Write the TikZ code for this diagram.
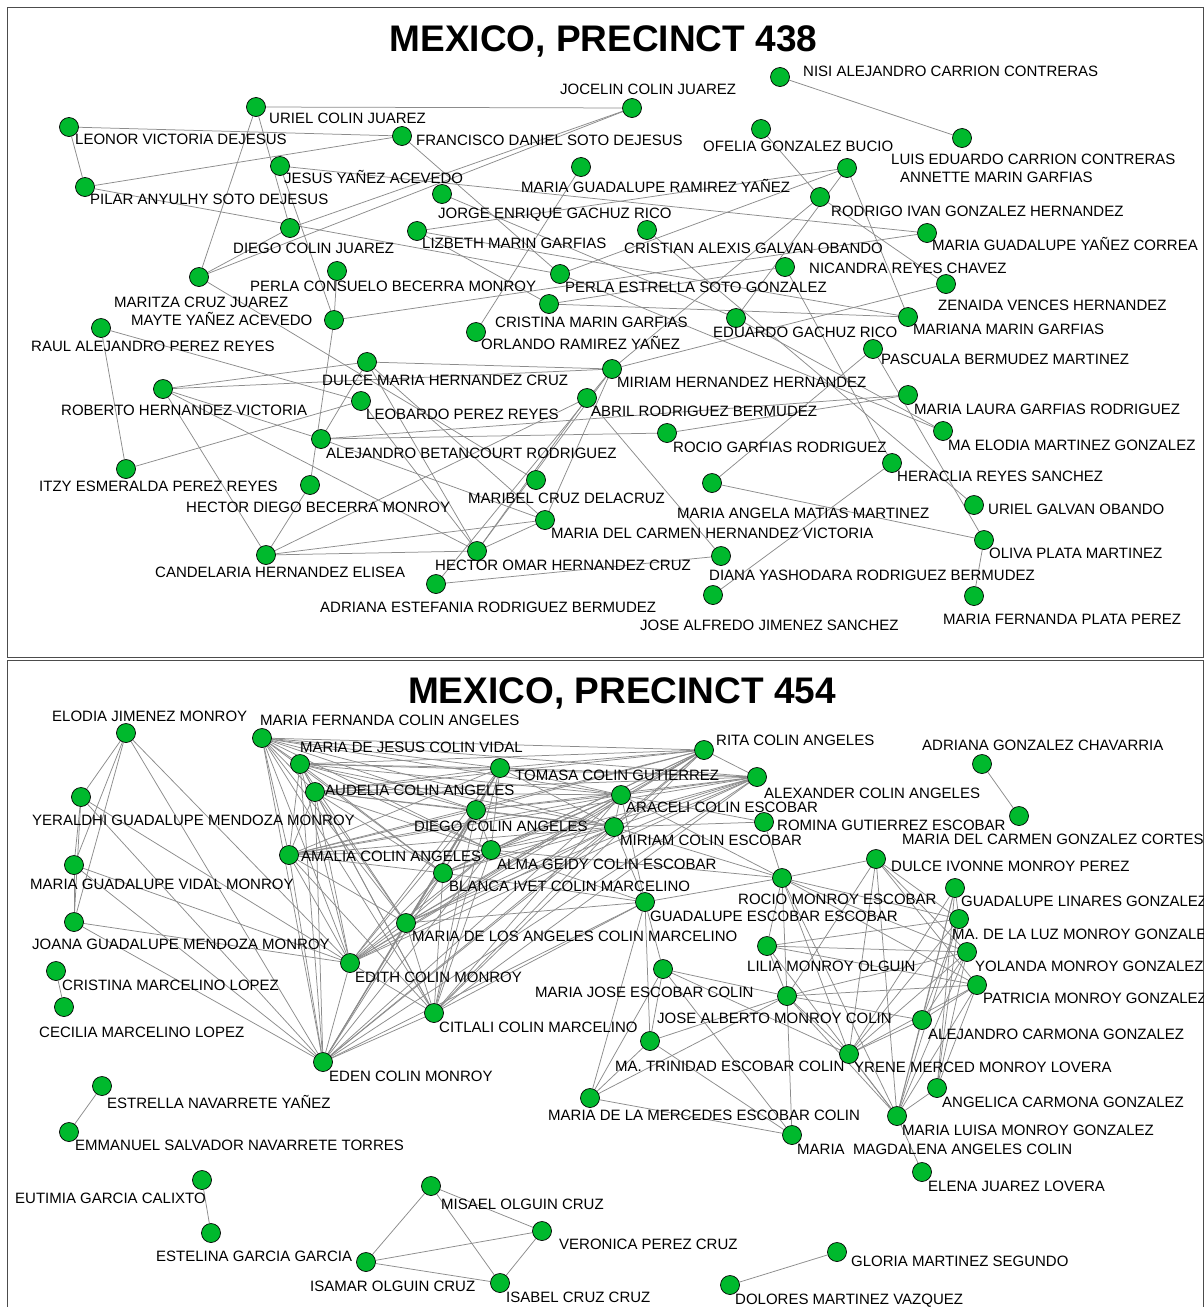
\documentclass[tikz,border=0pt]{standalone}
\usepackage{fontspec}
\setmainfont{Liberation Sans}
\usetikzlibrary{backgrounds}
\definecolor{dotgreen}{RGB}{0,185,45}
\definecolor{linkgray}{RGB}{140,140,140}

\begin{document}
\begin{tikzpicture}[x=1pt,y=-1pt,
    dot/.style={circle,draw=black,line width=0.7pt,fill=dotgreen,minimum size=19pt,inner sep=0pt},
    lbl/.style={anchor=west,inner sep=0pt,text height=10.8pt,text depth=0pt,font=\fontsize{15}{17}\selectfont},
    link/.style={draw=linkgray,line width=0.75pt},
    frame/.style={draw=black!70,line width=0.8pt},
    title/.style={inner sep=0pt,text height=26.5pt,text depth=0pt,font=\fontsize{37}{40}\selectfont\bfseries}]
    \useasboundingbox (0,0) rectangle (1204,1307);

    % frames and titles
    \draw[frame] (7.5,7.5) rectangle (1203.5,657.5);
    \draw[frame] (7.5,660.5) rectangle (1203.5,1312);
    \node[title] (t438) at (603.5,38) {MEXICO, PRECINCT 438};
    \node[title] (t454) at (622,690) {MEXICO, PRECINCT 454};

    % precinct 438
    \foreach \n/\p/\q/\t in {
        ucj/{256,107}/{269,118}/URIEL COLIN JUAREZ,
        lvd/{69,127}/{75,139}/LEONOR VICTORIA DEJESUS,
        fds/{402,136}/{416,140}/FRANCISCO DANIEL SOTO DEJESUS,
        jcj/{632,108}/{560,89}/JOCELIN COLIN JUAREZ,
        nac/{780,77}/{803,71}/NISI ALEJANDRO CARRION CONTRERAS,
        lec/{962,138}/{891,159}/LUIS EDUARDO CARRION CONTRERAS,
        ogb/{761,129}/{703,146}/OFELIA GONZALEZ BUCIO,
        amg/{847,168}/{900,177}/ANNETTE MARIN GARFIAS,
        rgh/{820,197}/{831,211}/RODRIGO IVAN GONZALEZ HERNANDEZ,
        jya/{280,166}/{284,178}/JESUS YAÑEZ ACEVEDO,
        pas/{85,187}/{90,199}/PILAR ANYULHY SOTO DEJESUS,
        mry/{581,167}/{521,187}/MARIA GUADALUPE RAMIREZ YAÑEZ,
        jgr/{442,194}/{438,213}/JORGE ENRIQUE GACHUZ RICO,
        dcj/{290,228}/{233,248}/DIEGO COLIN JUAREZ,
        lmg/{417,231}/{422,243}/LIZBETH MARIN GARFIAS,
        cgo/{647,230}/{624,248}/CRISTIAN ALEXIS GALVAN OBANDO,
        myc/{927,233}/{932,245}/MARIA GUADALUPE YAÑEZ CORREA,
        nrc/{785,267}/{809,268}/NICANDRA REYES CHAVEZ,
        pbm/{337,271}/{250,286}/PERLA CONSUELO BECERRA MONROY,
        mcj/{199,277}/{114,302}/MARITZA CRUZ JUAREZ,
        psg/{560,274}/{565,287}/PERLA ESTRELLA SOTO GONZALEZ,
        zvh/{946,284}/{938,305}/ZENAIDA VENCES HERNANDEZ,
        cmg/{549,304}/{495,322}/CRISTINA MARIN GARFIAS,
        mya/{334,320}/{131,320}/MAYTE YAÑEZ ACEVEDO,
        egr/{736,318}/{713,332}/EDUARDO GACHUZ RICO,
        mmg/{908,317}/{913,329}/MARIANA MARIN GARFIAS,
        rpr/{101,328}/{31,346}/RAUL ALEJANDRO PEREZ REYES,
        ory/{476,332}/{481,344}/ORLANDO RAMIREZ YAÑEZ,
        pbz/{873,349}/{881,359}/PASCUALA BERMUDEZ MARTINEZ,
        dhc/{367,362}/{322,380}/DULCE MARIA HERNANDEZ CRUZ,
        mhh/{612,369}/{617,382}/MIRIAM HERNANDEZ HERNANDEZ,
        rhv/{163,389}/{61,410}/ROBERTO HERNANDEZ VICTORIA,
        lpr/{361,401}/{366,414}/LEOBARDO PEREZ REYES,
        arb/{587,398}/{591,411}/ABRIL RODRIGUEZ BERMUDEZ,
        mlr/{908,395}/{914,409}/MARIA LAURA GARFIAS RODRIGUEZ,
        rgr/{667,433}/{673,447}/ROCIO GARFIAS RODRIGUEZ,
        emg/{943,431}/{948,445}/MA ELODIA MARTINEZ GONZALEZ,
        abr/{321,439}/{326,453}/ALEJANDRO BETANCOURT RODRIGUEZ,
        hrs/{892,463}/{897,476}/HERACLIA REYES SANCHEZ,
        ipr/{126,469}/{39,486}/ITZY ESMERALDA PEREZ REYES,
        mcd/{536,480}/{468,498}/MARIBEL CRUZ DELACRUZ,
        hbm/{310,485}/{186,507}/HECTOR DIEGO BECERRA MONROY,
        amm/{712,483}/{677,513}/MARIA ANGELA MATIAS MARTINEZ,
        ugo/{974,505}/{988,509}/URIEL GALVAN OBANDO,
        mhv/{545,520}/{551,533}/MARIA DEL CARMEN HERNANDEZ VICTORIA,
        che/{266,555}/{155,572}/CANDELARIA HERNANDEZ ELISEA,
        hhc/{477,551}/{435,565}/HECTOR OMAR HERNANDEZ CRUZ,
        opm/{984,540}/{989,553}/OLIVA PLATA MARTINEZ,
        drb/{721,556}/{709,575}/DIANA YASHODARA RODRIGUEZ BERMUDEZ,
        aer/{436,584}/{320,607}/ADRIANA ESTEFANIA RODRIGUEZ BERMUDEZ,
        jjs/{713,595}/{640,625}/JOSE ALFREDO JIMENEZ SANCHEZ,
        mpp/{974,596}/{943,619}/MARIA FERNANDA PLATA PEREZ}
    {
        \node[dot] (\n) at (\p) {};
        \node[lbl] (\n-t) at (\q) {\t};
    }

    % precinct 454
    \foreach \n/\p/\q/\t in {
        ejm/{126,733}/{52,716}/ELODIA JIMENEZ MONROY,
        mfc/{262,738}/{260,720}/MARIA FERNANDA COLIN ANGELES,
        mjc/{300,764}/{300,747}/MARIA DE JESUS COLIN VIDAL,
        tcg/{500,768}/{515,775}/TOMASA COLIN GUTIERREZ,
        rca/{704,750}/{716,740}/RITA COLIN ANGELES,
        xca/{757,777}/{764,793}/ALEXANDER COLIN ANGELES,
        aud/{315,792}/{325,790}/AUDELIA COLIN ANGELES,
        ace/{621,795}/{626,807}/ARACELI COLIN ESCOBAR,
        dca/{476,810}/{414,826}/DIEGO COLIN ANGELES,
        mce/{614,827}/{620,840}/MIRIAM COLIN ESCOBAR,
        rge/{764,822}/{777,825}/ROMINA GUTIERREZ ESCOBAR,
        ygm/{81,797}/{32,820}/YERALDHI GUADALUPE MENDOZA MONROY,
        agc/{982,764}/{922,745}/ADRIANA GONZALEZ CHAVARRIA,
        mgc/{1019,816}/{902,839}/MARIA DEL CARMEN GONZALEZ CORTES,
        ama/{289,855}/{301,856}/AMALIA COLIN ANGELES,
        age/{491,850}/{497,864}/ALMA GEIDY COLIN ESCOBAR,
        bic/{443,873}/{449,886}/BLANCA IVET COLIN MARCELINO,
        dim/{876,859}/{891,866}/DULCE IVONNE MONROY PEREZ,
        mgv/{74,865}/{30,884}/MARIA GUADALUPE VIDAL MONROY,
        rme/{782,878}/{738,899}/ROCIO MONROY ESCOBAR,
        glg/{955,888}/{961,901}/GUADALUPE LINARES GONZALEZ,
        gee/{645,902}/{650,916}/GUADALUPE ESCOBAR ESCOBAR,
        mlz/{959,919}/{952,934}/MA. DE LA LUZ MONROY GONZALEZ,
        jgm/{74,922}/{32,944}/JOANA GUADALUPE MENDOZA MONROY,
        mac/{406,923}/{412,936}/MARIA DE LOS ANGELES COLIN MARCELINO,
        lmo/{767,946}/{747,966}/LILIA MONROY OLGUIN,
        ymg/{967,952}/{975,966}/YOLANDA MONROY GONZALEZ,
        ecm/{350,963}/{355,977}/EDITH COLIN MONROY,
        mje/{663,969}/{535,992}/MARIA JOSE ESCOBAR COLIN,
        cml/{56,971}/{62,985}/CRISTINA MARCELINO LOPEZ,
        pmg/{977,985}/{983,998}/PATRICIA MONROY GONZALEZ,
        cel/{64,1007}/{39,1032}/CECILIA MARCELINO LOPEZ,
        jam/{787,996}/{657,1018}/JOSE ALBERTO MONROY COLIN,
        ccm/{434,1013}/{439,1027}/CITLALI COLIN MARCELINO,
        acg/{922,1020}/{928,1034}/ALEJANDRO CARMONA GONZALEZ,
        mte/{650,1041}/{615,1066}/MA. TRINIDAD ESCOBAR COLIN,
        yml/{849,1054}/{854,1067}/YRENE MERCED MONROY LOVERA,
        edc/{323,1062}/{329,1076}/EDEN COLIN MONROY,
        eny/{102,1086}/{107,1103}/ESTRELLA NAVARRETE YAÑEZ,
        ang/{937,1088}/{942,1102}/ANGELICA CARMONA GONZALEZ,
        mme/{590,1098}/{548,1115}/MARIA DE LA MERCEDES ESCOBAR COLIN,
        mlm/{897,1116}/{902,1130}/MARIA LUISA MONROY GONZALEZ,
        ent/{69,1132}/{75,1145}/EMMANUEL SALVADOR NAVARRETE TORRES,
        mma/{792,1135}/{797,1149}/MARIA\ \ MAGDALENA ANGELES COLIN,
        ejl/{922,1172}/{928,1186}/ELENA JUAREZ LOVERA,
        egc/{202,1180}/{15,1198}/EUTIMIA GARCIA CALIXTO,
        moc/{431,1186}/{441,1204}/MISAEL OLGUIN CRUZ,
        vpc/{542,1231}/{559,1244}/VERONICA PEREZ CRUZ,
        egg/{211,1233}/{156,1256}/ESTELINA GARCIA GARCIA,
        gms/{837,1252}/{851,1261}/GLORIA MARTINEZ SEGUNDO,
        ioc/{366,1262}/{310,1286}/ISAMAR OLGUIN CRUZ,
        icc/{500,1283}/{506,1297}/ISABEL CRUZ CRUZ,
        dmv/{730,1285}/{735,1299}/DOLORES MARTINEZ VAZQUEZ}
    {
        \node[dot] (\n) at (\p) {};
        \node[lbl] (\n-t) at (\q) {\t};
    }

    \begin{scope}[on background layer]
        \fill[white] (0,0) rectangle (1204,1307);
        % links 438
        \foreach \a/\b in {ucj/jcj, ucj/mcj, ucj/dcj, lvd/fds, lvd/pas, pas/fds, pas/psg,
            jya/myc, jya/mya, dcj/jcj, mcj/jcj, mcj/dcj, pbm/mya, mya/myc, mya/hbm,
            mcj/mcd, rpr/lpr, rpr/ipr, fds/psg, mry/ory, nac/lec, ogb/rgh, rgh/zvh,
            rgh/mhh, amg/mmg, amg/lmg, amg/psg, amg/egr, lmg/mmg, cmg/mmg, lmg/cmg,
            jgr/egr, cgo/ugo, nrc/hrs, zvh/mhh, cmg/nrc, psg/emg, egr/emg, rhv/dhc,
            rhv/mhh, rhv/che, rhv/abr, rhv/hhc, ipr/lpr, dhc/abr, dhc/mhv, dhc/hhc,
            dhc/mhh, abr/rgr, abr/mhv, abr/mlr, rgr/mlr, che/hbm, che/mhv,
            che/hhc, che/arb, mhh/hhc, mhh/aer, mhh/mhv, arb/hhc, arb/drb, amm/pbz,
            amm/opm, hhc/mhv, lpr/hhc, aer/drb, pbz/opm, hrs/jjs, opm/mpp}
            \draw[link] (\a) -- (\b);

        % links 454, the Colin group first
        \def\colins{mfc,mjc,tcg,rca,xca,aud,ace,dca,mce,ama,age,bic,mac,ecm,ccm,edc}
        \foreach \a [count=\i] in \colins
            \foreach \b [count=\j] in \colins
                {\ifnum\j>\i \draw[link] (\a) -- (\b);\fi}
        \foreach \a/\b in {ejm/ygm, ejm/mgv, ejm/jgm, ygm/mgv, ygm/jgm, mgv/jgm, ejm/ecm,
            ejm/edc, ygm/ecm, ygm/edc, mgv/ecm, mgv/edc, jgm/ecm, jgm/edc,
            ace/rge, mce/rge, ace/rme, mce/rme, age/rme, rge/rme,
            gee/ace, gee/mce, gee/bic, gee/age, gee/mac, gee/ccm, gee/edc, gee/rme,
            gee/mje, gee/mte, gee/mme, mje/jam, mje/mte, mje/mma, mje/mme, mte/jam,
            mte/mma, mte/mme, mme/jam, mme/mma, jam/mma,
            rme/dim, rme/lmo, rme/jam, rme/yml, rme/mlm, rme/mlz, rme/ymg, rme/pmg,
            dim/yml, dim/mlm, dim/mlz, dim/ymg, dim/pmg, dim/jam,
            lmo/jam, lmo/mlz, lmo/ymg, lmo/pmg, lmo/mlm,
            jam/yml, jam/mlm, jam/pmg, jam/ymg, jam/acg,
            yml/mlz, yml/ymg, yml/pmg, yml/acg, yml/mlm, yml/glg,
            glg/acg, glg/ang, glg/mlm, glg/mlz, mlz/acg, mlz/ang, mlz/mlm,
            ymg/acg, ymg/ang, ymg/mlm, pmg/acg, pmg/ang, pmg/mlm,
            acg/mlm, ang/mlm, mlm/ejl, yml/mje,
            agc/mgc, cml/cel, eny/ent, egc/egg, moc/ioc, moc/vpc, moc/icc,
            ioc/vpc, ioc/icc, vpc/icc, gms/dmv}
            \draw[link] (\a) -- (\b);
    \end{scope}
\end{tikzpicture}
\end{document}
